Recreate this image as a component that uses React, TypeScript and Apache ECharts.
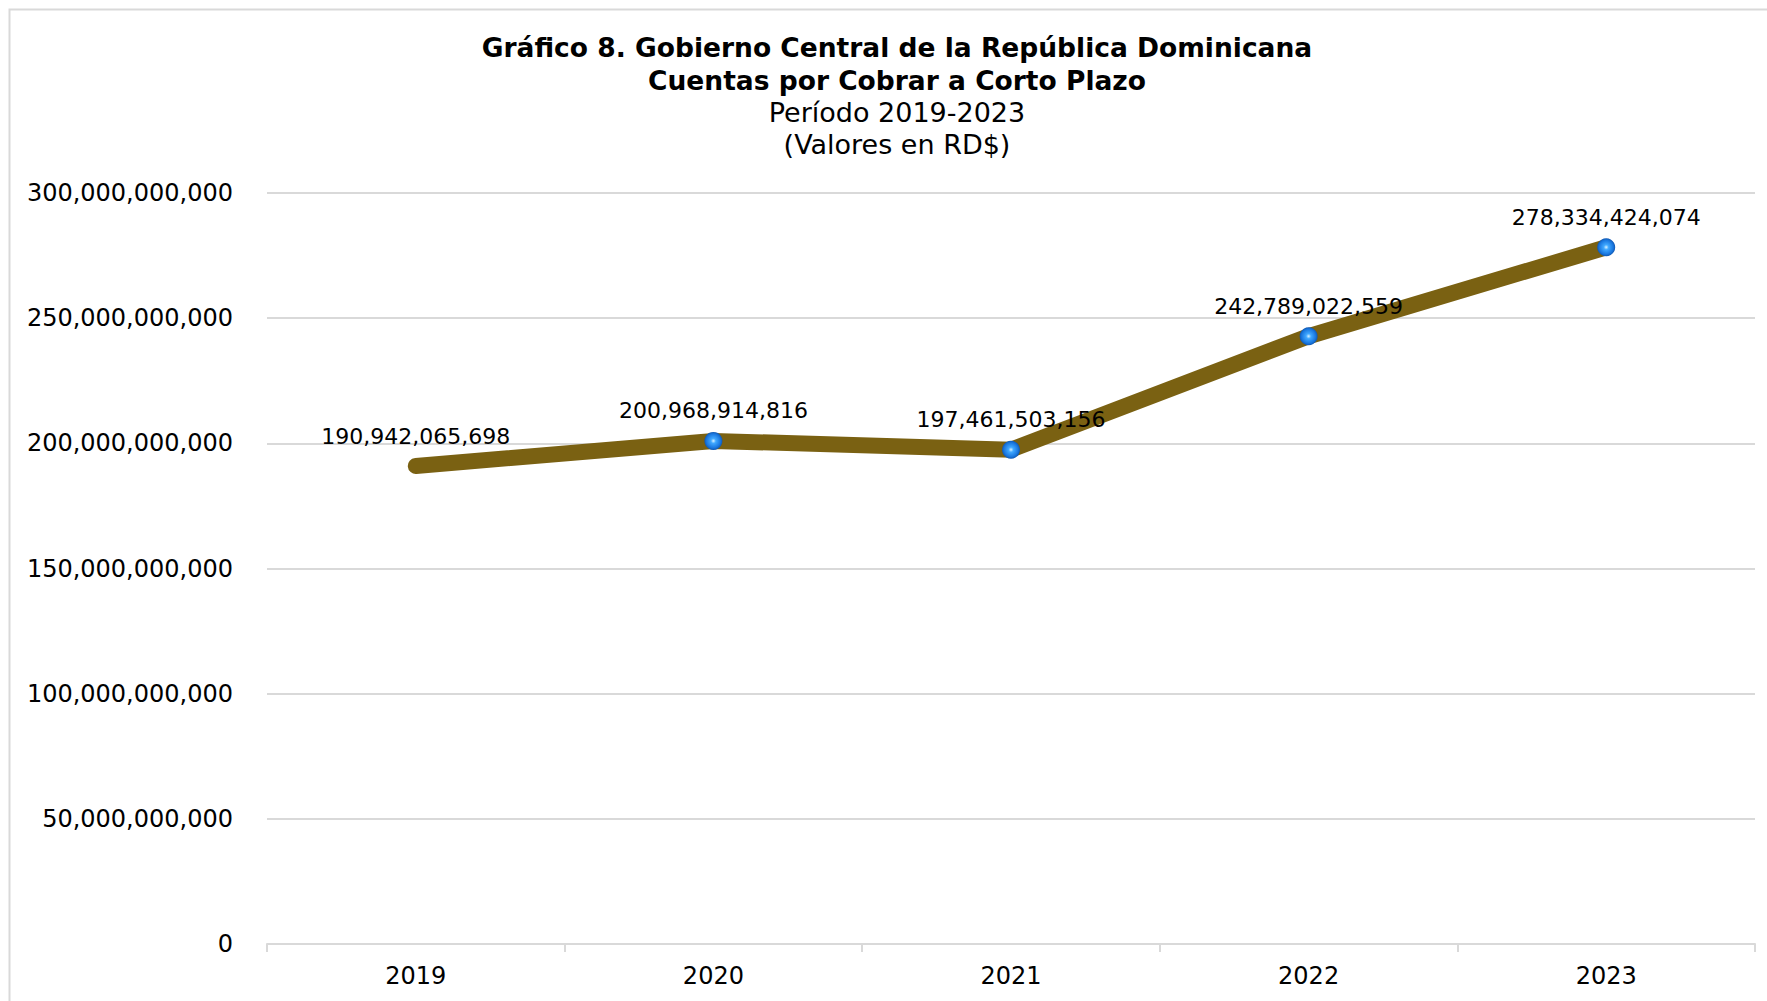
import React, { useEffect, useRef } from "react";
import * as echarts from "echarts";

const years = ["2019", "2020", "2021", "2022", "2023"];
const values = [190942065698, 200968914816, 197461503156, 242789022559, 278334424074];
const titleLines = [
  "Gráfico 8. Gobierno Central de la República Dominicana",
  "Cuentas por Cobrar a Corto Plazo",
  "Período 2019-2023",
  "(Valores en RD$)",
];
const yMin = 0;
const yMax = 300000000000;
const yStep = 50000000000;

const fmt = (v: number) => Math.round(v).toLocaleString("en-US");
const FONT = "'DejaVu Sans', Verdana, sans-serif";

export default function App() {
  const ref = useRef<HTMLDivElement>(null);
  useEffect(() => {
    if (!ref.current) return;
    const chart = echarts.init(ref.current, undefined, { renderer: "svg" });
    const markerColor = new echarts.graphic.RadialGradient(0.5, 0.5, 0.55, [
      { offset: 0, color: "#d8f2ff" },
      { offset: 0.25, color: "#40a8ff" },
      { offset: 0.7, color: "#1a78e0" },
      { offset: 1, color: "#0b4a9e" },
    ]);
    const data = values.map((v, i) =>
      i === 0
        ? { value: v, itemStyle: { color: "transparent", borderWidth: 0 } }
        : { value: v }
    );
    chart.setOption({
      animation: false,
      backgroundColor: "#ffffff",
      textStyle: { fontFamily: FONT },
      graphic: [
        {
          type: "rect",
          shape: { x: 9.5, y: 9.5, width: 1800, height: 1100 },
          style: { fill: "none", stroke: "#d9d9d9", lineWidth: 2 },
          silent: true,
        },
        ...titleLines.map((t, i) => ({
          type: "text",
          x: 897,
          y: [47, 80, 112, 144][i],
          style: {
            text: t,
            fontFamily: FONT,
            fontSize: i < 2 ? 26.5 : 27,
            fontWeight: i < 2 ? "bold" : "normal",
            fill: "#000000",
            textAlign: "center",
            textVerticalAlign: "middle",
          },
        })),
      ],
      grid: { left: 267, right: 12, top: 193, bottom: 57, containLabel: false },
      xAxis: {
        type: "category",
        data: years,
        boundaryGap: true,
        axisLine: { lineStyle: { color: "#d9d9d9", width: 2 } },
        axisTick: { show: true, length: 8, lineStyle: { color: "#d9d9d9", width: 2 } },
        axisLabel: { color: "#000", fontSize: 24, fontFamily: FONT, margin: 20 },
      },
      yAxis: {
        type: "value",
        min: yMin,
        max: yMax,
        interval: yStep,
        axisLine: { show: false },
        axisTick: { show: false },
        splitLine: { lineStyle: { color: "#d9d9d9", width: 2 } },
        axisLabel: {
          color: "#000",
          fontSize: 24,
          fontFamily: FONT,
          margin: 34,
          formatter: (v: number) => fmt(v),
        },
      },
      series: [
        {
          type: "line",
          data,
          symbol: "circle",
          symbolSize: 18,
          showAllSymbol: true,
          lineStyle: { color: "#7a6112", width: 16, cap: "round", join: "round" },
          itemStyle: { color: markerColor, borderWidth: 0 },
          label: {
            show: true,
            position: "top",
            distance: 10,
            color: "#000",
            fontSize: 22,
            fontFamily: FONT,
            formatter: (p: any) => fmt(p.value),
          },
          z: 3,
        },
      ],
    });
    return () => chart.dispose();
  }, []);
  return (
    <div
      ref={ref}
      style={{ position: "absolute", left: 0, top: 0, width: 1767, height: 1001 }}
    />
  );
}
